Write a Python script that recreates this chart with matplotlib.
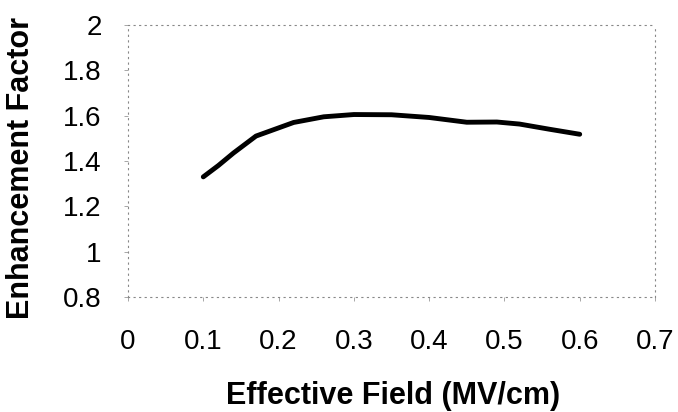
import numpy as np
import matplotlib
matplotlib.use("Agg")
import matplotlib.pyplot as plt

# data
field = [0.1, 0.12, 0.14, 0.17, 0.22, 0.26, 0.3, 0.35, 0.4, 0.45, 0.49, 0.52, 0.56, 0.6]
enhancement = [1.33, 1.38, 1.435, 1.51, 1.57, 1.595, 1.605, 1.604, 1.592, 1.571, 1.572, 1.563, 1.54, 1.518]

x_ticks = [0, 0.1, 0.2, 0.3, 0.4, 0.5, 0.6, 0.7]
x_labels = ["0", "0.1", "0.2", "0.3", "0.4", "0.5", "0.6", "0.7"]
y_ticks = [0.8, 1.0, 1.2, 1.4, 1.6, 1.8, 2.0]
y_labels = ["0.8", "1", "1.2", "1.4", "1.6", "1.8", "2"]

plt.rcParams['font.family'] = ['Liberation Sans', 'DejaVu Sans']

fig = plt.figure(figsize=(6.78, 4.12), dpi=100)
ax = fig.add_axes([128 / 678, 1 - 297 / 412, 527 / 678, 272 / 412])

ax.plot(field, enhancement, color="black", linewidth=3.5,
        solid_capstyle="round", solid_joinstyle="round")

ax.set_xlim(0, 0.7)
ax.set_ylim(0.8, 2.0)
ax.set_xticks(x_ticks)
ax.set_xticklabels(x_labels, fontsize=20)
ax.set_yticks(y_ticks)
ax.set_yticklabels(y_labels, fontsize=20)
ax.tick_params(axis="x", length=3, width=0.6, color="#999999", pad=20)
ax.tick_params(axis="y", length=3, width=0.6, color="#999999", pad=16)

# faint dotted frame like the scanned original
for side in ["left", "right", "top", "bottom"]:
    ax.spines[side].set_linestyle((0, (1, 4)))
    ax.spines[side].set_color("#888888")
    ax.spines[side].set_linewidth(0.8)

ax.set_xlabel("Effective Field (MV/cm)", fontsize=22, fontweight="bold", va="center")
ax.xaxis.set_label_coords(0.503, -0.364)
ax.set_ylabel("Enhancement Factor", fontsize=22, fontweight="bold", va="center")
ax.yaxis.set_label_coords(-0.203, 0.474)

fig.savefig("out.png", dpi=100)
